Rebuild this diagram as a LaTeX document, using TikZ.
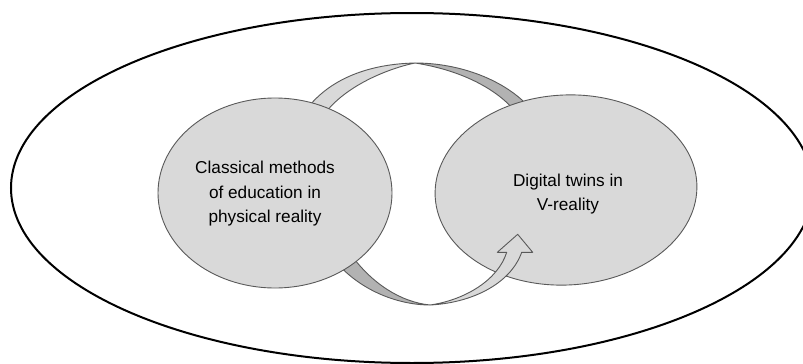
\documentclass[tikz,border=0pt]{standalone}
\usepackage{fontspec}
\setmainfont{Liberation Sans}
\usetikzlibrary{shapes.geometric}
\definecolor{fillgrey}{RGB}{217,217,217}
\definecolor{bandgrey}{RGB}{178,178,178}
\definecolor{edgegrey}{RGB}{89,89,89}
\begin{document}
\begin{tikzpicture}[x=1pt,y=-1pt,
  blob/.style={ellipse, draw=edgegrey, fill=fillgrey, line width=0.9pt, inner sep=0pt},
  band/.style={draw=edgegrey, line width=0.9pt, line join=round},
  lbl/.style={font=\fontsize{17.2}{24.5}\selectfont, align=center, text=black, inner sep=0pt}]
\useasboundingbox (0,0) rectangle (803,364);
\begin{scope}
  \clip (0,0) rectangle (803,364);
  \node[ellipse, draw=black, line width=2pt, minimum width=802pt, minimum height=350pt, inner sep=0pt] (outer) at (412,188) {};
\end{scope}
% top ribbon (behind the ellipses)
\path[band, fill=fillgrey] (306,110) .. controls (330,78) and (370,64) .. (415,63)
  .. controls (395,67) and (350,82) .. (326,112) -- cycle;
\path[band, fill=bandgrey] (415,63) .. controls (460,63) and (505,80) .. (530,108)
  -- (514,110) .. controls (495,88) and (460,70) .. (415,63) -- cycle;
% bottom ribbon, back part
\path[band, fill=bandgrey] (336,262) .. controls (362,292) and (400,305) .. (430,305)
  .. controls (400,302) and (372,283) .. (352,256) -- cycle;
% ellipses
\node[blob, minimum width=234pt, minimum height=190pt] (L) at (275,193) {};
\node[blob, minimum width=262pt, minimum height=190pt, rotate=3] (R) at (566,190) {};
% bottom ribbon, front part with head
\path[band, fill=fillgrey] (430,305) .. controls (470,303) and (510,285) .. (521.7,252.3)
  -- (532.7,252.3) -- (517.7,234.3) -- (497.3,252.3) -- (506.7,252.3)
  .. controls (498,280) and (465,300) .. (430,305) -- cycle;
% labels
\node[lbl] (Ltext) at (265,194) {Classical methods\\of education in\\physical reality};
\node[lbl] (Rtext) at (568,194) {Digital twins in\\V-reality};
\end{tikzpicture}
\end{document}
